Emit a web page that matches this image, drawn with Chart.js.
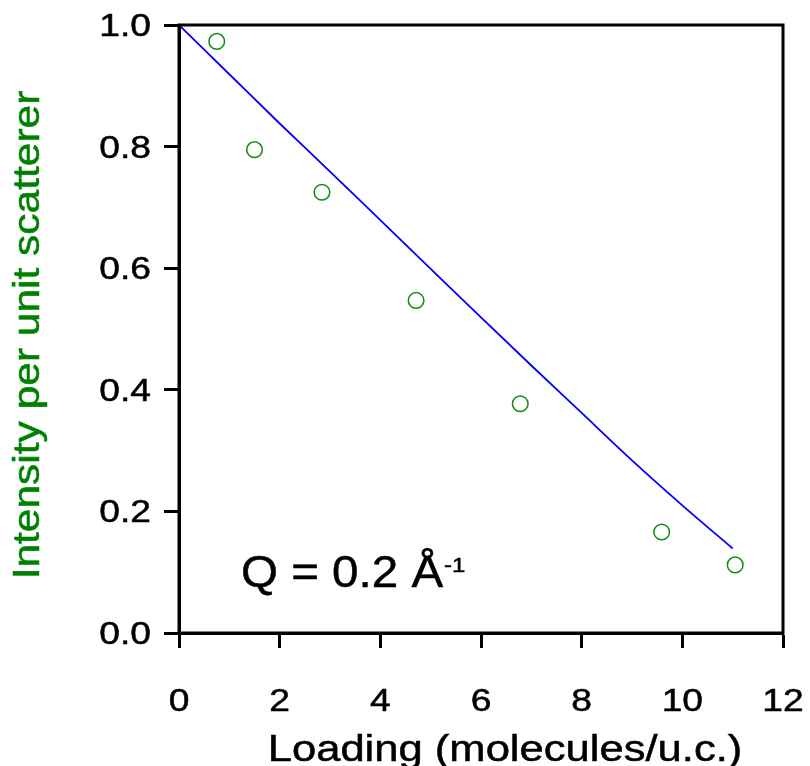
<!DOCTYPE html>
<html>
<head>
<meta charset="utf-8">
<script src="https://cdn.jsdelivr.net/npm/chart.js@4"></script>
<style>
  html, body { margin: 0; padding: 0; background: #fff; }
  #wrap { width: 810px; height: 766px; }
</style>
</head>
<body>
<div id="wrap"><canvas id="chart" width="810" height="766"></canvas></div>
<script>
// measured intensity vs loading
const loading = [0.75, 1.50, 2.84, 4.71, 6.78, 9.59, 11.05];
const intensity = [0.973, 0.795, 0.725, 0.547, 0.377, 0.166, 0.112];

// model curve
const modelX = [0, 1, 2, 3, 4, 5, 6, 7, 8, 9, 10, 11];
const modelY = [1.0, 0.919, 0.838, 0.759, 0.679, 0.599, 0.519, 0.440, 0.362, 0.284, 0.210, 0.139];

const xTicks = [0, 2, 4, 6, 8, 10, 12];
const yTicks = [0.0, 0.2, 0.4, 0.6, 0.8, 1.0];

const FONT = '"Liberation Sans", Arial, Helvetica, sans-serif';

// text in the figure is set a bit wider and heavier than Arial,
// so stretch along the baseline and add a hairline outline
function wideText(ctx, text, x, y, size, align, sx, color) {
    ctx.save();
    ctx.translate(x, y);
    ctx.scale(sx, 1);
    ctx.font = size + 'px ' + FONT;
    ctx.fillStyle = color || '#000';
    ctx.strokeStyle = color || '#000';
    ctx.lineWidth = 0.5;
    ctx.textAlign = align;
    ctx.textBaseline = 'alphabetic';
    ctx.fillText(text, 0, 0);
    ctx.strokeText(text, 0, 0);
    ctx.restore();
}

const framePlugin = {
    id: 'frame',
    afterDraw(chart) {
        const ctx = chart.ctx;
        const a = chart.chartArea;
        const xs = chart.scales.x;
        const ys = chart.scales.y;

        // box around the plot
        ctx.save();
        ctx.strokeStyle = '#000';
        ctx.lineWidth = 3;
        ctx.strokeRect(a.left, a.top, a.right - a.left, a.bottom - a.top);
        ctx.restore();

        // tick labels
        xTicks.forEach(v => {
            wideText(ctx, String(v), xs.getPixelForValue(v), 711, 31, 'center', 1.2);
        });
        yTicks.forEach(v => {
            wideText(ctx, v.toFixed(1), 151, ys.getPixelForValue(v) + 11, 31, 'right', 1.2);
        });

        // axis titles
        wideText(ctx, 'Loading (molecules/u.c.)', 505, 761, 36, 'center', 1.21);
        ctx.save();
        ctx.translate(39, 335);
        ctx.rotate(-Math.PI / 2);
        wideText(ctx, 'Intensity per unit scatterer', 0, 0, 36, 'center', 1.18, '#008000');
        ctx.restore();

        // Q label
        ctx.save();
        ctx.font = '44px ' + FONT;
        const main = 'Q = 0.2 \u00C5';
        const sx = 1.08;
        const w = ctx.measureText(main).width * sx;
        ctx.restore();
        wideText(ctx, main, 241, 587, 44, 'left', sx);
        wideText(ctx, '-1', 241 + w + 1, 572, 20, 'left', 1.2);
    }
};

new Chart(document.getElementById('chart'), {
    type: 'scatter',
    data: {
        datasets: [
            {
                label: 'model',
                data: modelX.map((x, i) => ({ x: x, y: modelY[i] })),
                showLine: true,
                borderColor: '#0000ff',
                borderWidth: 1.8,
                pointRadius: 0,
                cubicInterpolationMode: 'monotone',
                fill: false
            },
            {
                label: 'data',
                data: loading.map((x, i) => ({ x: x, y: intensity[i] })),
                showLine: false,
                pointStyle: 'circle',
                pointRadius: 7.8,
                pointBorderWidth: 1.5,
                pointBorderColor: '#138a13',
                pointBackgroundColor: 'rgba(0,0,0,0)'
            }
        ]
    },
    options: {
        responsive: false,
        animation: false,
        devicePixelRatio: 1,
        layout: { padding: { top: 25, right: 27, left: 0, bottom: 0 } },
        plugins: {
            legend: { display: false },
            tooltip: { enabled: false }
        },
        scales: {
            x: {
                type: 'linear',
                min: 0,
                max: 12,
                afterBuildTicks: s => { s.ticks = xTicks.map(v => ({ value: v })); },
                afterFit: s => { s.height = 133; },
                ticks: { display: false },
                grid: {
                    drawOnChartArea: false,
                    drawTicks: true,
                    tickLength: 15,
                    tickWidth: 3,
                    tickColor: '#000'
                },
                border: { display: true, color: '#000', width: 3 }
            },
            y: {
                type: 'linear',
                min: 0,
                max: 1,
                afterBuildTicks: s => { s.ticks = yTicks.map(v => ({ value: v })); },
                afterFit: s => { s.width = 179; },
                ticks: { display: false },
                grid: {
                    drawOnChartArea: false,
                    drawTicks: true,
                    tickLength: 15,
                    tickWidth: 3,
                    tickColor: '#000'
                },
                border: { display: true, color: '#000', width: 3 }
            }
        }
    },
    plugins: [framePlugin]
});
</script>
</body>
</html>
